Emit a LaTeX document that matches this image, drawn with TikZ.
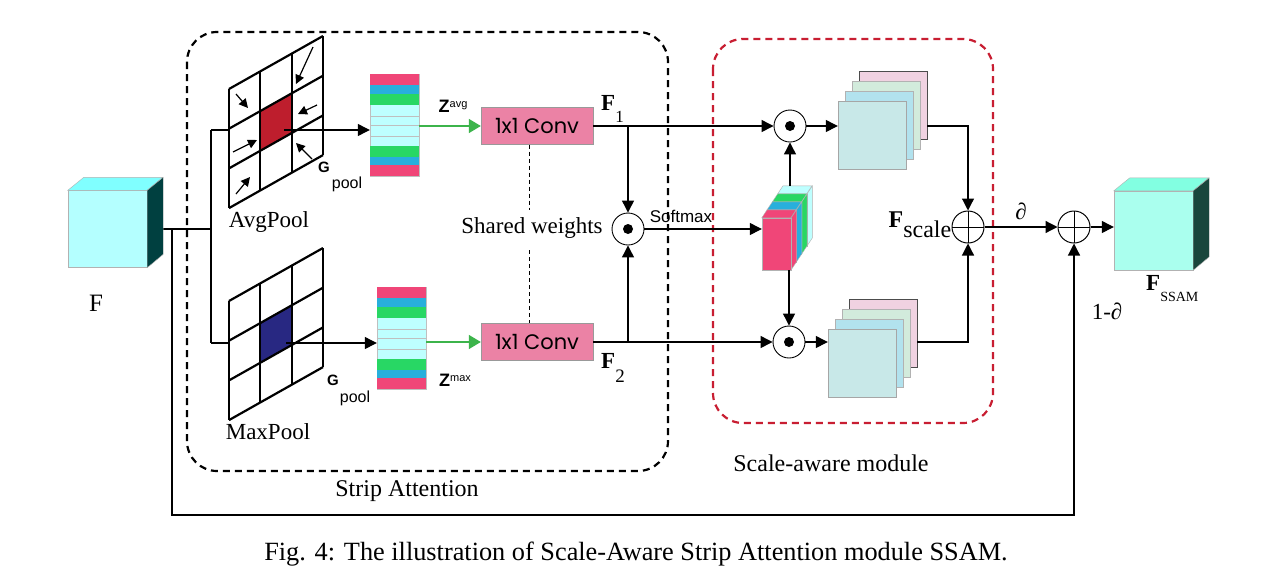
\documentclass[tikz,border=0pt]{standalone}
\usepackage{fontspec}
\setmainfont{Liberation Serif}
\setsansfont{Liberation Sans}
\newfontfamily\convfont{Poppins}
\usepackage{xcolor}
\usepackage{tikz}
\usetikzlibrary{arrows.meta,positioning,calc}
\definecolor{cubeFront}{RGB}{180,255,255}
\definecolor{cubeTop}{RGB}{128,255,255}
\definecolor{cubeSide}{RGB}{0,64,64}
\definecolor{outFront}{RGB}{170,255,238}
\definecolor{outTop}{RGB}{130,255,225}
\definecolor{outSide}{RGB}{25,70,60}
\definecolor{avgRed}{RGB}{190,30,45}
\definecolor{maxBlue}{RGB}{40,40,130}
\definecolor{stripPink}{RGB}{240,70,120}
\definecolor{stripBlue}{RGB}{40,175,220}
\definecolor{stripGreen}{RGB}{40,215,100}
\definecolor{stripCyan}{RGB}{190,255,255}
\definecolor{convPink}{RGB}{235,130,165}
\definecolor{zGreen}{RGB}{60,180,75}
\definecolor{mapTeal}{RGB}{200,232,232}
\definecolor{mapBlue}{RGB}{178,226,238}
\definecolor{mapGreen}{RGB}{210,235,220}
\definecolor{mapPink}{RGB}{240,210,225}
\definecolor{scaleRed}{RGB}{200,30,50}

\tikzset{
  flow/.style={line width=1.2pt,-{Triangle[length=12pt,width=12pt]}},
  wire/.style={line width=1.2pt},
  greenflow/.style={zGreen,line width=1.4pt,-{Triangle[length=12pt,width=14pt]}},
  cellarrow/.style={line width=1.2pt,-{Triangle[length=9pt,width=9pt]}},
  opdot/.style={circle,draw,line width=0.9pt,fill=white,minimum size=32pt,inner sep=0pt,
    path picture={\fill[black] (path picture bounding box.center) circle (5pt);}},
  opsum/.style={circle,draw,line width=1pt,fill=white,minimum size=32pt,inner sep=0pt,
    path picture={\draw[line width=1pt] (path picture bounding box.north) -- (path picture bounding box.south)
      (path picture bounding box.west) -- (path picture bounding box.east);}},
  convbox/.style={draw=black!40,fill=convPink,minimum width=112pt,minimum height=37pt,inner sep=0pt,
    font=\convfont\fontsize{21}{21}\selectfont},
  stripbox/.style={draw=black!25,fill=stripCyan,minimum width=49pt,minimum height=102pt,inner sep=0pt},
  mapsq/.style={minimum width=68pt,minimum height=68pt,inner sep=0pt,draw=black!30},
  label/.style={font=\fontsize{23}{23}\selectfont},
  sflabel/.style={font=\sffamily\fontsize{16}{16}\selectfont},
  boxline/.style={line width=2.2pt,dash pattern=on 7pt off 5pt,rounded corners=30pt},
}

\begin{document}
\begin{tikzpicture}[x=1pt,y=-1pt]
  \useasboundingbox[fill=white] (0,0) rectangle (1274,582);

  % dashed module frames
  \draw[boxline] (187,32) rectangle (668,471);
  \draw[boxline,scaleRed] (713,39) rectangle (993,423);
  \node[label,font=\fontsize{24}{24}\selectfont] (saname) at (407,491) {Strip Attention};
  \node[label,font=\fontsize{24}{24}\selectfont] (scname) at (831,463) {Scale-aware module};

  % input feature F
  \node[draw=black!30,fill=cubeFront,minimum width=79pt,minimum height=77pt,inner sep=0pt] (fin) at (107.5,229) {};
  \coordinate (skip) at (172,229);
  \coordinate (split) at (211,229);
  \coordinate (ga) at (211,130);
  \coordinate (gm) at (211,343);
  \coordinate (avgc) at (284,130);
  \coordinate (maxc) at (286,343);
  \coordinate (loopend) at (1074,515);
  \draw[wire] (fin.east) -- (split);
  \draw[draw=black!30,fill=cubeTop] (fin.north west) -- ++(16,-13) -- ++(79,0) -- (fin.north east) -- cycle;
  \draw[draw=black!30,fill=cubeSide] (fin.north east) -- ++(16,-13) -- ++(0,77) -- (fin.south east) -- cycle;
  \node[label,font=\fontsize{25}{25}\selectfont] (fname) at (96,303) {F};

  \draw[wire] (ga) -- (gm);
  \draw[wire] (ga) -- (avgc);
  \draw[wire] (gm) -- (maxc);

  % pooling grids
  \begin{scope}[shift={(229,89)},x={(31.33pt,17.67pt)},y={(0pt,-39.7pt)},line width=2.2pt]
    \fill[white] (0,0) -- (3,0) -- (3,3) -- (0,3) -- cycle;
    \fill[avgRed] (1,1) -- (2,1) -- (2,2) -- (1,2) -- cycle;
    \foreach \k in {0,...,3} {
      \draw (\k,0) -- (\k,3);
      \draw (0,\k) -- (3,\k);
    }
  \end{scope}
  \draw[cellarrow] (236,94) -- (248,108);
  \draw[cellarrow] (313,47) -- (296,84);
  \draw[cellarrow] (317,105) -- (298,114);
  \draw[cellarrow] (233,152) -- (257,140);
  \draw[cellarrow] (312,159) -- (296,143);
  \draw[cellarrow] (236,194) -- (250,177);
  \begin{scope}[shift={(229,301)},x={(31.33pt,17.67pt)},y={(0pt,-39.7pt)},line width=2.2pt]
    \fill[white] (0,0) -- (3,0) -- (3,3) -- (0,3) -- cycle;
    \fill[maxBlue] (1,1) -- (2,1) -- (2,2) -- (1,2) -- cycle;
    \foreach \k in {0,...,3} {
      \draw (\k,0) -- (\k,3);
      \draw (0,\k) -- (3,\k);
    }
  \end{scope}
  \node[label] (avgname) at (269,222) {AvgPool};
  \node[label] (maxname) at (268,432) {MaxPool};
  \node[sflabel,font=\sffamily\bfseries\fontsize{15}{15}\selectfont] (gavg) at (324,167) {G};
  \node[sflabel] (pavg) at (347,184) {pool};
  \node[sflabel,font=\sffamily\bfseries\fontsize{15}{15}\selectfont] (gmax) at (333,380) {G};
  \node[sflabel] (pmax) at (355,398) {pool};

  % pooled strips
  \node[stripbox] (stripavg) at (394.5,125) {};
  \node[stripbox] (stripmax) at (401.5,338.5) {};
  \foreach \s in {stripavg,stripmax} {
    \fill[stripPink] (\s.north west) rectangle ++(49,11);
    \fill[stripBlue] ($(\s.north west)+(0,11)$) rectangle ++(49,9);
    \fill[stripGreen] ($(\s.north west)+(0,20)$) rectangle ++(49,11);
    \fill[stripGreen] ($(\s.north west)+(0,72)$) rectangle ++(49,11);
    \fill[stripBlue] ($(\s.north west)+(0,83)$) rectangle ++(49,8);
    \fill[stripPink] ($(\s.north west)+(0,91)$) rectangle ++(49,11);
    \foreach \d in {42,51,62}
      \draw[black!25,line width=0.6pt] ($(\s.north west)+(0,\d)$) -- ++(49,0);
  }
  \draw[flow] (avgc) -- (avgc -| stripavg.west);
  \draw[flow] (maxc) -- (maxc -| stripmax.west);

  % shared 1x1 convolutions
  \node[convbox] (convavg) at (537,126) {1x1 Conv};
  \node[convbox] (convmax) at (537,342) {1x1 Conv};
  \draw[greenflow] (convavg.west -| stripavg.east) -- (convavg.west);
  \draw[greenflow] (convmax.west -| stripmax.east) -- (convmax.west);
  \node[font=\sffamily\fontsize{18}{18}\selectfont] (zavg) at (453,106) {\textbf{Z}\raisebox{5pt}{\fontsize{11}{11}\selectfont avg}};
  \node[font=\sffamily\fontsize{18}{18}\selectfont] (zmax) at (455,380) {\textbf{Z}\raisebox{5pt}{\fontsize{11}{11}\selectfont max}};
  \node[label] (shared) at (532,228) {Shared weights};
  \draw[line width=0.9pt,dash pattern=on 4pt off 3pt] (convavg.south -| 529,0) -- (529,210);
  \draw[line width=0.9pt,dash pattern=on 4pt off 3pt] (529,250) -- (convmax.north -| 529,0);
  \node[label,anchor=base west,inner sep=0pt] (fone) at (601,110) {\textbf{F}\raisebox{-12pt}{\fontsize{17}{17}\selectfont 1}};
  \node[label,anchor=base west,inner sep=0pt] (ftwo) at (601,368) {\textbf{F}\raisebox{-14pt}{\fontsize{19}{19}\selectfont 2}};

  % softmax weighting
  \node[opdot] (mulsoft) at (628,229) {};
  \node[sflabel,font=\sffamily\fontsize{17}{17}\selectfont] (softname) at (681,216) {Softmax};
  \node[opdot] (multop) at (790,126) {};
  \node[opdot] (mulbot) at (789,342) {};
  \draw[flow] (convavg.east -| mulsoft) -- (mulsoft);
  \draw[flow] (convmax.east -| mulsoft) -- (mulsoft);
  \draw[flow] (convavg.east) -- (multop);
  \draw[flow] (convmax.east) -- (mulbot);

  % scale weight block
  \node[minimum width=29pt,minimum height=52pt,inner sep=0pt] (wblock) at (776.5,244) {};
  \foreach \k/\c in {3/stripCyan,2/stripGreen,1/stripBlue,0/stripPink} {
    \draw[black!30,line width=0.4pt,fill=\c] ($(wblock.north west)+(5.3*\k,-8*\k)$) -- ++(5.3,-8) -- ++(29,0) -- ++(-5.3,8) -- cycle;
    \draw[black!30,line width=0.4pt,fill=\c] ($(wblock.north east)+(5.3*\k,-8*\k)$) -- ++(5.3,-8) -- ++(0,52) -- ++(-5.3,8) -- cycle;
    \draw[black!30,line width=0.4pt,fill=\c] ($(wblock.north west)+(5.3*\k,-8*\k)$) rectangle ++(29,52);
  }
  \coordinate (wtop) at (790,186);
  \draw[flow] (mulsoft) -- (mulsoft -| wblock.west);
  \draw[flow] (wtop) -- (multop);
  \draw[flow] (wblock.south -| mulbot) -- (mulbot);

  % scaled feature maps
  \node[mapsq,fill=mapPink,draw=black!70] (mapApk) at (893,105) {};
  \node[mapsq,fill=mapGreen] (mapAgr) at (886,115) {};
  \node[mapsq,fill=mapBlue] (mapAbl) at (879,125) {};
  \node[mapsq,fill=mapTeal,draw=black!35] (mapA) at (872,135) {};
  \node[mapsq,fill=mapPink,draw=black!70] (mapBpk) at (883,333) {};
  \node[mapsq,fill=mapGreen] (mapBgr) at (876,343) {};
  \node[mapsq,fill=mapBlue] (mapBbl) at (869,353) {};
  \node[mapsq,fill=mapTeal,draw=black!35] (mapB) at (862,363) {};
  \draw[flow] (multop) -- (multop -| mapA.west);
  \draw[flow] (mulbot) -- (mulbot -| mapB.west);

  % fusion
  \node[opsum] (addscale) at (968,227) {};
  \draw[flow] (multop -| mapApk.east) -- (multop -| addscale) -- (addscale);
  \draw[flow] (mulbot -| mapBpk.east) -- (mulbot -| addscale) -- (addscale);
  \node[label,anchor=base east,inner sep=0pt,font=\fontsize{24}{24}\selectfont] (fscale) at (addscale.west)
    {\textbf{F}\raisebox{-10pt}{scale}};

  \node[opsum] (addout) at (1074,227) {};
  \draw[flow] (addscale) -- (addout) node[midway,above=3pt,label] (alpha) {∂};
  \draw[flow] (skip) |- (loopend) -- (addout);
  \node[label] (beta) at (1107,311) {1-∂};

  % output feature F_SSAM
  \node[draw=black!30,fill=outFront,minimum width=79pt,minimum height=79pt,inner sep=0pt] (fout) at (1153.5,230.5) {};
  \draw[draw=black!30,fill=outTop] (fout.north west) -- ++(16,-13) -- ++(79,0) -- (fout.north east) -- cycle;
  \draw[draw=black!30,fill=outSide] (fout.north east) -- ++(16,-13) -- ++(0,79) -- (fout.south east) -- cycle;
  \draw[flow] (addout) -- (addout -| fout.west);
  \node[label,anchor=base west,inner sep=0pt] (fssam) at (1146,290)
    {\textbf{F}\raisebox{-11pt}{\fontsize{14}{14}\selectfont SSAM}};

  \node[font=\fontsize{26.3}{26.3}\selectfont] (caption) at (636,554)
    {Fig. 4: The illustration of Scale-Aware Strip Attention module SSAM.};
\end{tikzpicture}
\end{document}
